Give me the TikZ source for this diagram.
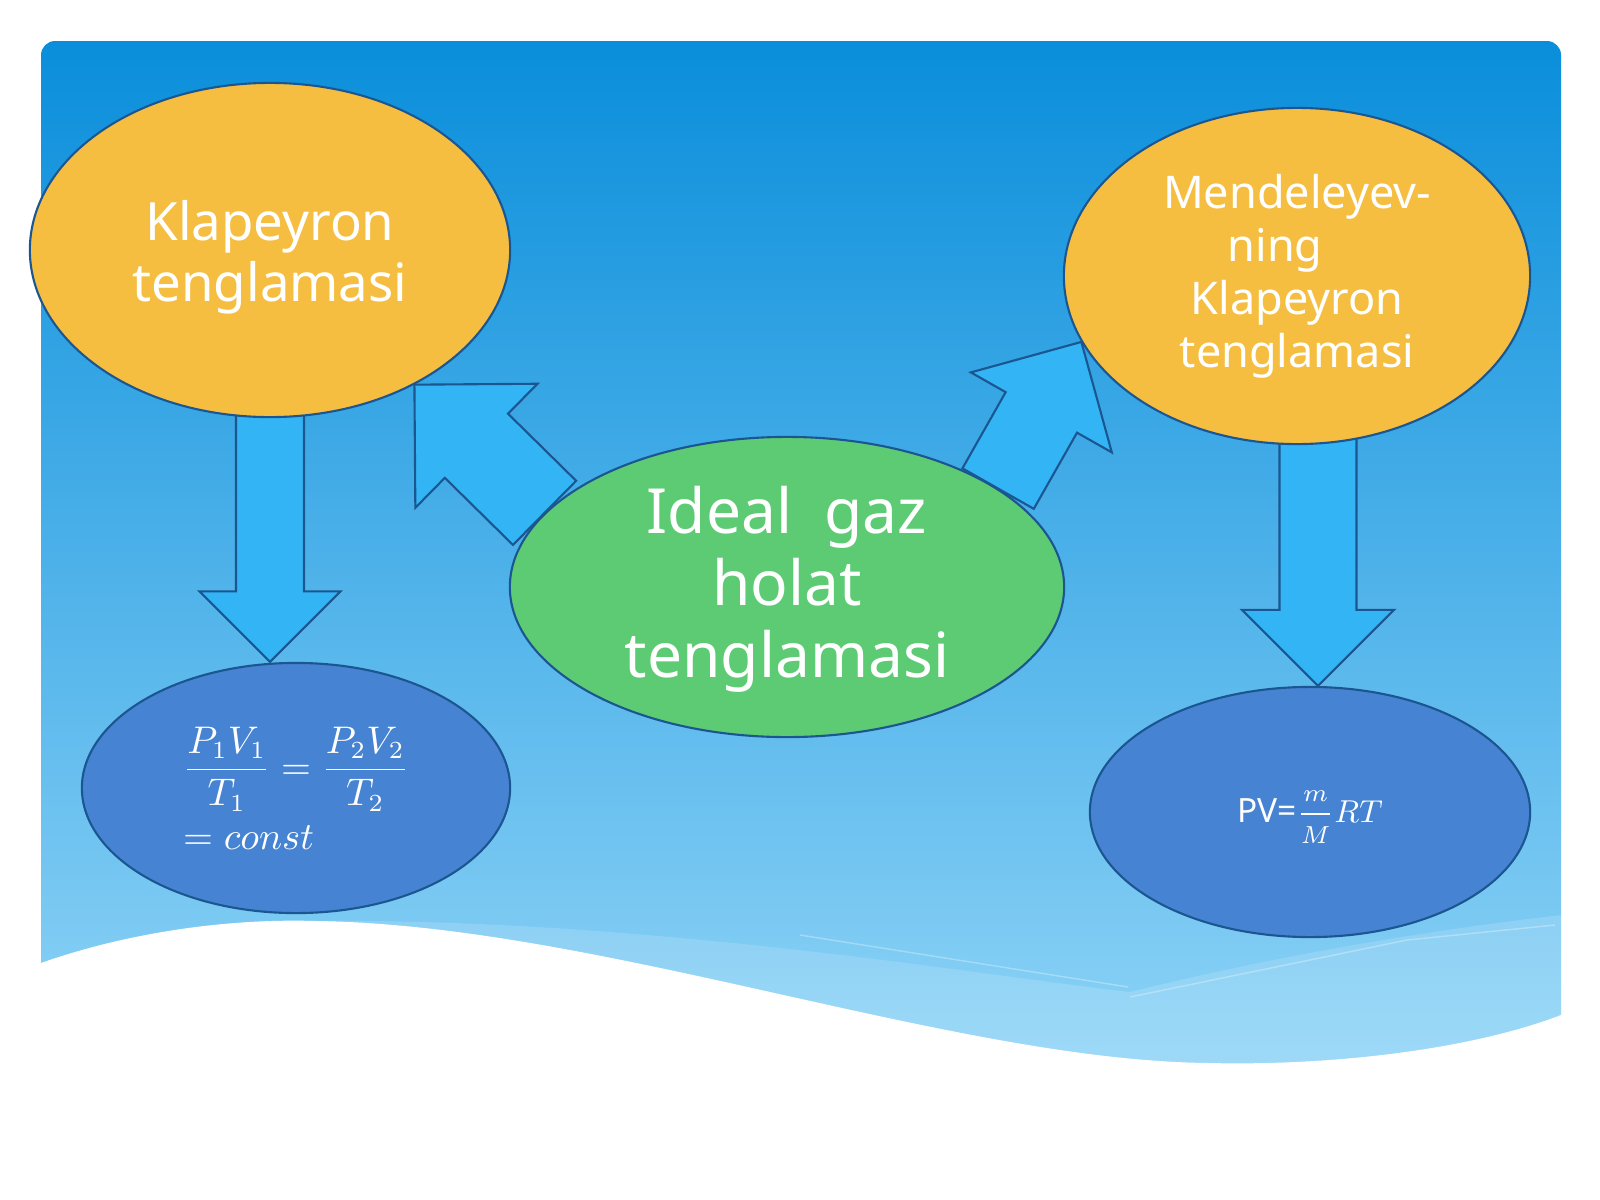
\documentclass[tikz,border=0pt]{standalone}
\usepackage{amsmath}
\usepackage{fontspec}
\setmainfont{Noto Sans}
\usetikzlibrary{calc, shapes.geometric}
\definecolor{skytop}{HTML}{0A8EDB}
\definecolor{skymid}{HTML}{36A9E7}
\definecolor{skybottom}{HTML}{8FD4F7}
\definecolor{sunorange}{HTML}{F5BE41}
\definecolor{leafgreen}{HTML}{5CCB73}
\definecolor{deepblue}{HTML}{4683D2}
\definecolor{arrowblue}{HTML}{32B4F5}
\definecolor{rimblue}{HTML}{1C5690}

\pgfdeclarelayer{sky}
\pgfdeclarelayer{links}
\pgfsetlayers{sky,links,main}

% block arrow: from, to, half shaft, half head
\newcommand{\blockarrow}[4]{%
  \coordinate (headbase) at ($(#2)!#4!(#1)$);
  \draw[bigarrow] ($(#1)!#3!90:(#2)$) -- ($(headbase)!#3!90:(#2)$)
    -- ($(headbase)!#4!90:(#2)$) -- (#2) -- ($(headbase)!#4!-90:(#2)$)
    -- ($(headbase)!#3!-90:(#2)$) -- ($(#1)!#3!-90:(#2)$) -- cycle;
}

\begin{document}
\begin{tikzpicture}[x=0.01cm, y=-0.01cm,
    blob/.style={ellipse, draw=rimblue, line width=0.6pt, inner sep=0pt,
      text=white, align=center},
    bigarrow/.style={draw=rimblue, line width=0.6pt, fill=arrowblue, line join=miter}]
    \useasboundingbox (0,0) rectangle (1600,1200);
    \begin{pgfonlayer}{sky}
        \fill[white] (0,0) rectangle (1600,1200);
        \shade[top color=skytop, middle color=skymid, bottom color=skybottom,
          rounded corners=4pt] (41,41) rectangle (1561,1080);
        \fill[white, opacity=0.15] (316,921) .. controls (650,918) and (1000,978) .. (1130,992)
          .. controls (1300,950) and (1450,928) .. (1561,915) -- (1561,1100) -- (316,1100) -- cycle;
        \draw[white, opacity=0.3, line width=0.4pt] (800,935) -- (1128,987);
        \draw[white, opacity=0.3, line width=0.4pt] (1130,997) -- (1407,940) -- (1555,925);
        \fill[white] (0,963) -- (41,963) .. controls (120,935) and (220,918) .. (316,921)
          .. controls (600,925) and (950,1060) .. (1208,1063)
          .. controls (1330,1066) and (1470,1050) .. (1561,1015)
          -- (1600,1015) -- (1600,1200) -- (0,1200) -- cycle;
    \end{pgfonlayer}

    \node[blob, fill=sunorange, minimum width=4.8cm, minimum height=3.34cm,
      font=\fontsize{15}{17.4}\selectfont] (klap) at (270,250)
      {\rule{0pt}{15.4pt}Klapeyron\\tenglamasi};
    \node[blob, fill=sunorange, minimum width=4.66cm, minimum height=3.36cm,
      font=\fontsize{12.8}{15.1}\selectfont] (mend) at (1297,276)
      {Mendeleyev-\\ning\rule{12.5pt}{0pt}\\Klapeyron\\tenglamasi};
    \node[blob, fill=leafgreen, minimum width=5.54cm, minimum height=3cm,
      font=\fontsize{17.7}{20.5}\selectfont] (ideal) at (787,587)
      {\rule{0pt}{14.9pt}Ideal\ \ gaz\\holat\\tenglamasi};
    \node[blob, fill=deepblue, minimum width=4.28cm, minimum height=2.5cm, align=left,
      font=\fontsize{10.5}{13}\selectfont] (lform) at (296,788)
      {$\dfrac{P_1V_1}{T_1}=\dfrac{P_2V_2}{T_2}$\\[3pt]$=const$};
    \node[blob, fill=deepblue, minimum width=4.4cm, minimum height=2.5cm,
      text height=10pt, text depth=4.3pt,
      font=\fontsize{9.5}{11}\selectfont] (rform) at (1310,812)
      {PV=$\dfrac{\scriptstyle m}{\scriptstyle M}RT$};

    \begin{pgfonlayer}{links}
        \coordinate (ktop) at ($(klap.south)+(0,-12)$);
        \coordinate (ktip) at (klap.south |- lform.north);
        \coordinate (mtop) at ($(mend.south)+(21,-12)$);
        \coordinate (mtip) at ($(rform.north)+(8,0)$);
        \blockarrow{ktop}{ktip}{0.34cm}{0.705cm}
        \blockarrow{mtop}{mtip}{0.385cm}{0.76cm}
        \blockarrow{ideal.163}{klap.-43}{0.45cm}{0.87cm}
        \blockarrow{ideal.25}{mend.197}{0.41cm}{0.81cm}
    \end{pgfonlayer}
\end{tikzpicture}
\end{document}
